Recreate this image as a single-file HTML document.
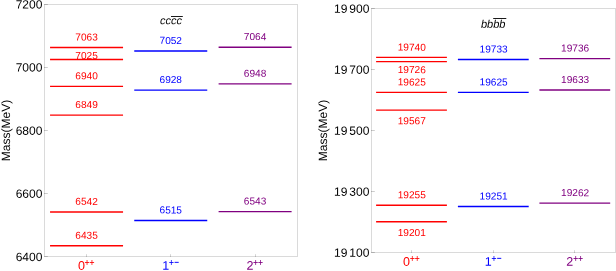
<!DOCTYPE html><html><head><meta charset="utf-8"><title>Mass spectrum</title><style>html,body{margin:0;padding:0;background:#fff}svg{display:block;will-change:transform}text{font-family:"Liberation Sans",sans-serif;text-rendering:geometricPrecision}</style></head><body>
<svg width="616" height="271" viewBox="0 0 616 271">
<rect width="616" height="271" fill="#fff"/>
<rect x="44.5" y="4.5" width="253" height="252" fill="none" stroke="#dadada" stroke-width="1"/>
<path d="M44 4.5H47.8" stroke="#000" stroke-opacity="0.2" stroke-width="1" fill="none"/>
<text x="42.40" y="8.49" font-size="12" text-anchor="end" fill="#000" transform="rotate(0.2 42.40 8.49)">7200</text>
<path d="M44 67.5H47.8" stroke="#000" stroke-opacity="0.2" stroke-width="1" fill="none"/>
<text x="42.40" y="71.62" font-size="12" text-anchor="end" fill="#000" transform="rotate(0.2 42.40 71.62)">7000</text>
<path d="M44 130.5H47.8" stroke="#000" stroke-opacity="0.2" stroke-width="1" fill="none"/>
<text x="42.40" y="134.76" font-size="12" text-anchor="end" fill="#000" transform="rotate(0.2 42.40 134.76)">6800</text>
<path d="M44 193.5H47.8" stroke="#000" stroke-opacity="0.2" stroke-width="1" fill="none"/>
<text x="42.40" y="197.89" font-size="12" text-anchor="end" fill="#000" transform="rotate(0.2 42.40 197.89)">6600</text>
<path d="M44 256.5H47.8" stroke="#000" stroke-opacity="0.2" stroke-width="1" fill="none"/>
<text x="42.40" y="261.03" font-size="12" text-anchor="end" fill="#000" transform="rotate(0.2 42.40 261.03)">6400</text>
<path d="M86.5 254.2V257" stroke="#000" stroke-opacity="0.17" stroke-width="1" fill="none"/>
<text x="78.05" y="269.70" font-size="12.5" text-anchor="start" fill="#ff0000" transform="rotate(0.2 78.05 269.70)">0</text>
<path d="M84.90 262.5H89.20" stroke="#ff0000" stroke-width="0.85" fill="none"/>
<path d="M87.05 260.0V264.95" stroke="#ff0000" stroke-width="0.75" fill="none"/>
<path d="M89.80 262.5H94.10" stroke="#ff0000" stroke-width="0.85" fill="none"/>
<path d="M91.95 260.0V264.95" stroke="#ff0000" stroke-width="0.75" fill="none"/>
<path d="M50.05 47.54H123.05" stroke="#ff0000" stroke-width="1.35" fill="none"/>
<text x="86.55" y="40.44" font-size="10.1" text-anchor="middle" fill="#ff0000" transform="rotate(0.2 86.55 40.44)">7063</text>
<path d="M50.05 59.53H123.05" stroke="#ff0000" stroke-width="1.35" fill="none"/>
<text x="86.55" y="58.93" font-size="10.1" text-anchor="middle" fill="#ff0000" transform="rotate(0.2 86.55 58.93)">7025</text>
<path d="M50.05 86.36H123.05" stroke="#ff0000" stroke-width="1.35" fill="none"/>
<text x="86.55" y="79.26" font-size="10.1" text-anchor="middle" fill="#ff0000" transform="rotate(0.2 86.55 79.26)">6940</text>
<path d="M50.05 115.09H123.05" stroke="#ff0000" stroke-width="1.35" fill="none"/>
<text x="86.55" y="107.99" font-size="10.1" text-anchor="middle" fill="#ff0000" transform="rotate(0.2 86.55 107.99)">6849</text>
<path d="M50.05 212.00H123.05" stroke="#ff0000" stroke-width="1.35" fill="none"/>
<text x="86.55" y="204.90" font-size="10.1" text-anchor="middle" fill="#ff0000" transform="rotate(0.2 86.55 204.90)">6542</text>
<path d="M50.05 245.78H123.05" stroke="#ff0000" stroke-width="1.35" fill="none"/>
<text x="86.55" y="238.68" font-size="10.1" text-anchor="middle" fill="#ff0000" transform="rotate(0.2 86.55 238.68)">6435</text>
<path d="M170.5 254.2V257" stroke="#000" stroke-opacity="0.17" stroke-width="1" fill="none"/>
<text x="162.25" y="269.70" font-size="12.5" text-anchor="start" fill="#0000ff" transform="rotate(0.2 162.25 269.70)">1</text>
<path d="M169.25 262.5H173.55" stroke="#0000ff" stroke-width="0.85" fill="none"/>
<path d="M171.40 260.0V264.95" stroke="#0000ff" stroke-width="0.75" fill="none"/>
<path d="M174.60 262.35H178.70" stroke="#0000ff" stroke-width="0.95" fill="none"/>
<path d="M134.25 51.01H207.25" stroke="#0000ff" stroke-width="1.35" fill="none"/>
<text x="170.75" y="43.91" font-size="10.1" text-anchor="middle" fill="#0000ff" transform="rotate(0.2 170.75 43.91)">7052</text>
<path d="M134.25 90.15H207.25" stroke="#0000ff" stroke-width="1.35" fill="none"/>
<text x="170.75" y="83.05" font-size="10.1" text-anchor="middle" fill="#0000ff" transform="rotate(0.2 170.75 83.05)">6928</text>
<path d="M134.25 220.52H207.25" stroke="#0000ff" stroke-width="1.35" fill="none"/>
<text x="170.75" y="213.42" font-size="10.1" text-anchor="middle" fill="#0000ff" transform="rotate(0.2 170.75 213.42)">6515</text>
<path d="M255.5 254.2V257" stroke="#000" stroke-opacity="0.17" stroke-width="1" fill="none"/>
<text x="246.60" y="269.70" font-size="12.5" text-anchor="start" fill="#800080" transform="rotate(0.2 246.60 269.70)">2</text>
<path d="M253.45 262.5H257.75" stroke="#800080" stroke-width="0.85" fill="none"/>
<path d="M255.60 260.0V264.95" stroke="#800080" stroke-width="0.75" fill="none"/>
<path d="M258.35 262.5H262.65" stroke="#800080" stroke-width="0.85" fill="none"/>
<path d="M260.50 260.0V264.95" stroke="#800080" stroke-width="0.75" fill="none"/>
<path d="M218.60 47.22H291.60" stroke="#800080" stroke-width="1.35" fill="none"/>
<text x="255.10" y="40.12" font-size="10.1" text-anchor="middle" fill="#800080" transform="rotate(0.2 255.10 40.12)">7064</text>
<path d="M218.60 83.84H291.60" stroke="#800080" stroke-width="1.35" fill="none"/>
<text x="255.10" y="76.74" font-size="10.1" text-anchor="middle" fill="#800080" transform="rotate(0.2 255.10 76.74)">6948</text>
<path d="M218.60 211.69H291.60" stroke="#800080" stroke-width="1.35" fill="none"/>
<text x="255.10" y="204.59" font-size="10.1" text-anchor="middle" fill="#800080" transform="rotate(0.2 255.10 204.59)">6543</text>
<text x="171.00" y="24.20" font-size="11" text-anchor="middle" fill="#000" transform="rotate(0.2 171.00 24.20)" font-style="italic">cccc</text>
<path d="M171.0 16.5H182.8" stroke="#000" stroke-width="0.9" fill="none"/>
<text transform="translate(10.4,130.5) rotate(-90)" font-size="12" text-anchor="middle" fill="#000">Mass(MeV)</text>
<rect x="371.5" y="8.5" width="244" height="244" fill="none" stroke="#dadada" stroke-width="1"/>
<path d="M371 8.5H374.8" stroke="#000" stroke-opacity="0.2" stroke-width="1" fill="none"/>
<text x="369.40" y="12.75" font-size="12" text-anchor="end" fill="#000" transform="rotate(0.2 369.40 12.75)">900</text>
<text x="347.48" y="12.75" font-size="12" text-anchor="end" fill="#000" transform="rotate(0.2 347.48 12.75)">19</text>
<path d="M371 69.5H374.8" stroke="#000" stroke-opacity="0.2" stroke-width="1" fill="none"/>
<text x="369.40" y="73.75" font-size="12" text-anchor="end" fill="#000" transform="rotate(0.2 369.40 73.75)">700</text>
<text x="347.48" y="73.75" font-size="12" text-anchor="end" fill="#000" transform="rotate(0.2 347.48 73.75)">19</text>
<path d="M371 130.5H374.8" stroke="#000" stroke-opacity="0.2" stroke-width="1" fill="none"/>
<text x="369.40" y="134.75" font-size="12" text-anchor="end" fill="#000" transform="rotate(0.2 369.40 134.75)">500</text>
<text x="347.48" y="134.75" font-size="12" text-anchor="end" fill="#000" transform="rotate(0.2 347.48 134.75)">19</text>
<path d="M371 191.5H374.8" stroke="#000" stroke-opacity="0.2" stroke-width="1" fill="none"/>
<text x="369.40" y="195.75" font-size="12" text-anchor="end" fill="#000" transform="rotate(0.2 369.40 195.75)">300</text>
<text x="347.48" y="195.75" font-size="12" text-anchor="end" fill="#000" transform="rotate(0.2 347.48 195.75)">19</text>
<path d="M371 252.5H374.8" stroke="#000" stroke-opacity="0.2" stroke-width="1" fill="none"/>
<text x="369.40" y="256.75" font-size="12" text-anchor="end" fill="#000" transform="rotate(0.2 369.40 256.75)">100</text>
<text x="347.48" y="256.75" font-size="12" text-anchor="end" fill="#000" transform="rotate(0.2 347.48 256.75)">19</text>
<path d="M411.5 250.2V253" stroke="#000" stroke-opacity="0.17" stroke-width="1" fill="none"/>
<text x="403.00" y="265.70" font-size="12.5" text-anchor="start" fill="#ff0000" transform="rotate(0.2 403.00 265.70)">0</text>
<path d="M410.20 258.5H414.50" stroke="#ff0000" stroke-width="0.85" fill="none"/>
<path d="M412.35 256.0V260.95" stroke="#ff0000" stroke-width="0.75" fill="none"/>
<path d="M415.10 258.5H419.40" stroke="#ff0000" stroke-width="0.85" fill="none"/>
<path d="M417.25 256.0V260.95" stroke="#ff0000" stroke-width="0.75" fill="none"/>
<path d="M376.10 57.35H446.90" stroke="#ff0000" stroke-width="1.35" fill="none"/>
<text x="411.80" y="50.65" font-size="10.1" text-anchor="middle" fill="#ff0000" transform="rotate(0.2 411.80 50.65)">19740</text>
<path d="M376.10 61.62H446.90" stroke="#ff0000" stroke-width="1.35" fill="none"/>
<text x="411.80" y="73.12" font-size="10.1" text-anchor="middle" fill="#ff0000" transform="rotate(0.2 411.80 73.12)">19726</text>
<path d="M376.10 92.42H446.90" stroke="#ff0000" stroke-width="1.35" fill="none"/>
<text x="411.80" y="85.42" font-size="10.1" text-anchor="middle" fill="#ff0000" transform="rotate(0.2 411.80 85.42)">19625</text>
<path d="M376.10 110.11H446.90" stroke="#ff0000" stroke-width="1.35" fill="none"/>
<text x="411.80" y="124.31" font-size="10.1" text-anchor="middle" fill="#ff0000" transform="rotate(0.2 411.80 124.31)">19567</text>
<path d="M376.10 205.28H446.90" stroke="#ff0000" stroke-width="1.35" fill="none"/>
<text x="411.80" y="198.28" font-size="10.1" text-anchor="middle" fill="#ff0000" transform="rotate(0.2 411.80 198.28)">19255</text>
<path d="M376.10 221.75H446.90" stroke="#ff0000" stroke-width="1.35" fill="none"/>
<text x="411.80" y="236.05" font-size="10.1" text-anchor="middle" fill="#ff0000" transform="rotate(0.2 411.80 236.05)">19201</text>
<path d="M493.5 250.2V253" stroke="#000" stroke-opacity="0.17" stroke-width="1" fill="none"/>
<text x="484.80" y="265.70" font-size="12.5" text-anchor="start" fill="#0000ff" transform="rotate(0.2 484.80 265.70)">1</text>
<path d="M491.80 258.5H496.10" stroke="#0000ff" stroke-width="0.85" fill="none"/>
<path d="M493.95 256.0V260.95" stroke="#0000ff" stroke-width="0.75" fill="none"/>
<path d="M497.15 258.35H501.25" stroke="#0000ff" stroke-width="0.95" fill="none"/>
<path d="M457.90 59.48H528.70" stroke="#0000ff" stroke-width="1.35" fill="none"/>
<text x="493.60" y="52.48" font-size="10.1" text-anchor="middle" fill="#0000ff" transform="rotate(0.2 493.60 52.48)">19733</text>
<path d="M457.90 92.42H528.70" stroke="#0000ff" stroke-width="1.35" fill="none"/>
<text x="493.60" y="85.42" font-size="10.1" text-anchor="middle" fill="#0000ff" transform="rotate(0.2 493.60 85.42)">19625</text>
<path d="M457.90 206.50H528.70" stroke="#0000ff" stroke-width="1.35" fill="none"/>
<text x="493.60" y="199.50" font-size="10.1" text-anchor="middle" fill="#0000ff" transform="rotate(0.2 493.60 199.50)">19251</text>
<path d="M574.5 250.2V253" stroke="#000" stroke-opacity="0.17" stroke-width="1" fill="none"/>
<text x="566.30" y="265.70" font-size="12.5" text-anchor="start" fill="#800080" transform="rotate(0.2 566.30 265.70)">2</text>
<path d="M573.50 258.5H577.80" stroke="#800080" stroke-width="0.85" fill="none"/>
<path d="M575.65 256.0V260.95" stroke="#800080" stroke-width="0.75" fill="none"/>
<path d="M578.40 258.5H582.70" stroke="#800080" stroke-width="0.85" fill="none"/>
<path d="M580.55 256.0V260.95" stroke="#800080" stroke-width="0.75" fill="none"/>
<path d="M539.40 58.57H610.20" stroke="#800080" stroke-width="1.35" fill="none"/>
<text x="575.10" y="51.57" font-size="10.1" text-anchor="middle" fill="#800080" transform="rotate(0.2 575.10 51.57)">19736</text>
<path d="M539.40 89.98H610.20" stroke="#800080" stroke-width="1.35" fill="none"/>
<text x="575.10" y="82.98" font-size="10.1" text-anchor="middle" fill="#800080" transform="rotate(0.2 575.10 82.98)">19633</text>
<path d="M539.40 203.14H610.20" stroke="#800080" stroke-width="1.35" fill="none"/>
<text x="575.10" y="196.14" font-size="10.1" text-anchor="middle" fill="#800080" transform="rotate(0.2 575.10 196.14)">19262</text>
<text x="493.20" y="27.70" font-size="11" text-anchor="middle" fill="#000" transform="rotate(0.2 493.20 27.70)" font-style="italic">bbbb</text>
<path d="M493.2 18.5H506.3" stroke="#000" stroke-width="0.9" fill="none"/>
<text transform="translate(326.6,130.5) rotate(-90)" font-size="12" text-anchor="middle" fill="#000">Mass(MeV)</text>
</svg></body></html>
